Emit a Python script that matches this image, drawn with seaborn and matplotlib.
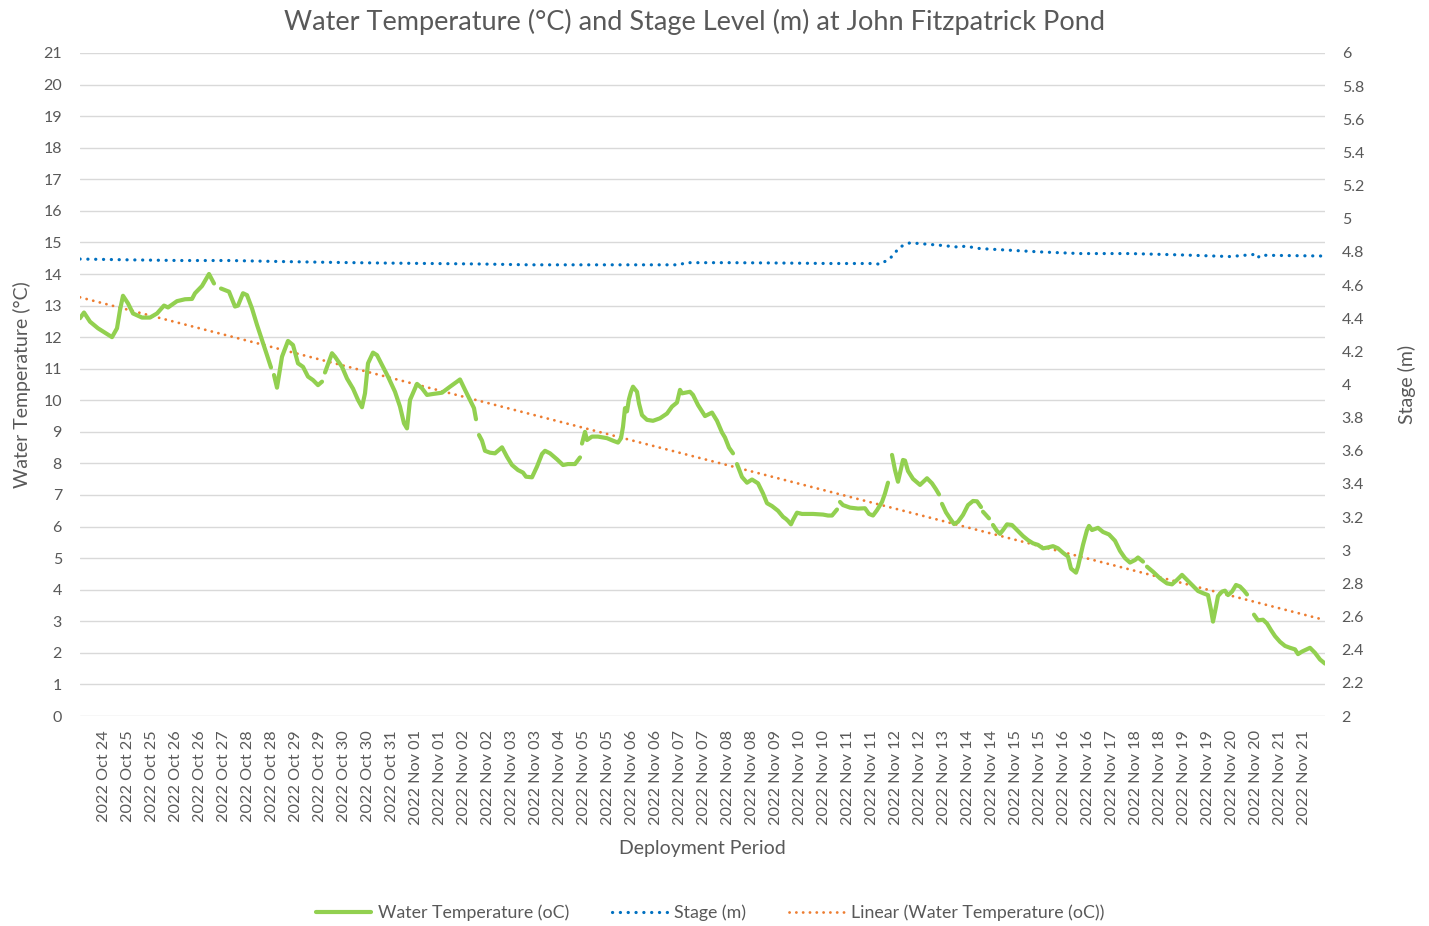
import numpy as np
import pandas as pd
import matplotlib
matplotlib.use("Agg")
import matplotlib.pyplot as plt
from matplotlib.lines import Line2D
import seaborn as sns

sns.set_theme(style="white")
plt.rcParams['font.family'] = ['Lato', 'DejaVu Sans']

# ---------------- data ----------------
# reading index (uniform logging interval) and water temperature (°C); NaN = logger gap
temp_idx = [0, 4, 10, 18, 32, 37, 40, 43, 48, 53, 62, 70, 77, 84, 88, 97, 105, 112, 115, 122, 129, 134, 137,
            141, 149, 155, 158, 163, 167, 172, 177, 182, 187, 191, 192,
            194, 197, 202, 208, 213, 218, 223, 228, 233, 238, 242, 243,
            245, 252, 255, 262, 267, 273, 278, 282, 285, 288, 293, 297, 302, 308, 315, 320, 324, 327,
            330, 337, 342, 347, 353, 362, 370, 377, 380, 385, 390, 394, 396, 397,
            399, 402, 405, 410, 415, 422, 427, 432, 438, 443, 446, 452, 457, 462, 465, 470, 477, 483,
            488, 495, 500, 501,
            502, 505, 507, 512, 518, 527, 533, 538, 541, 543, 545, 547, 549, 551, 553, 557, 559, 562,
            567, 573, 580, 587, 592, 597, 600, 602, 610, 613, 618, 625, 632, 637, 642, 645, 649, 653, 655,
            657, 662, 667, 672, 678, 683, 687, 692, 698, 703, 706, 708, 711, 713, 717, 722, 733, 743,
            748, 752, 757, 758,
            760, 763, 770, 778, 785, 789, 793, 797, 802, 805, 808, 810,
            812, 815, 818, 823, 825, 828, 833, 840, 847, 852, 856, 859, 860,
            862, 866, 870, 874, 878, 883, 888, 893, 897, 901, 902,
            903, 909, 911,
            913, 917, 920, 923, 927, 932, 937, 943, 948, 953, 958, 963, 968, 973, 978, 983, 988, 991,
            996, 998, 1003, 1007, 1009, 1012, 1018, 1023, 1029, 1035, 1040, 1045, 1050, 1055, 1058,
            1063, 1065,
            1067, 1073, 1080, 1087, 1092, 1097, 1102, 1107, 1113, 1118, 1123, 1128, 1131, 1133, 1136,
            1138, 1142, 1145, 1148, 1152, 1156, 1160, 1164, 1167, 1170,
            1174, 1178, 1183, 1187, 1191, 1195, 1200, 1205, 1210, 1215, 1218, 1222, 1230, 1235, 1240,
            1245]
temp_val = [12.6, 12.78, 12.49, 12.28, 12.0, 12.28, 12.86, 13.31, 13.07, 12.75, 12.62, 12.62, 12.75, 13.0,
            12.94, 13.14, 13.2, 13.21, 13.39, 13.62, 14.0, 13.7, np.nan,
            13.54, 13.44, 12.97, 13.0, 13.39, 13.33, 12.91, 12.39, 11.91, 11.43, 11.04, np.nan,
            10.8, 10.4, 11.38, 11.88, 11.75, 11.17, 11.06, 10.75, 10.64, 10.48, 10.59, np.nan,
            10.88, 11.49, 11.38, 11.06, 10.69, 10.37, 10.01, 9.78, 10.22, 11.17, 11.51, 11.43, 11.12,
            10.75, 10.27, 9.8, 9.27, 9.11,
            10.01, 10.52, 10.38, 10.17, 10.20, 10.24, 10.43, 10.59, 10.66, 10.33, 10.01, 9.75, 9.4, np.nan,
            8.9, 8.72, 8.4, 8.34, 8.32, 8.51, 8.21, 7.95, 7.79, 7.71, 7.58, 7.56, 7.9, 8.3, 8.4, 8.32,
            8.13, 7.95, 7.98, 7.98, 8.19, np.nan,
            8.63, 9.0, 8.74, 8.85, 8.85, 8.8, 8.72, 8.66, 8.8, 9.16, 9.75, 9.65, 10.04, 10.27, 10.43,
            10.27, 9.9, 9.53, 9.38, 9.35, 9.43, 9.58, 9.8, 9.93, 10.33, 10.22, 10.27, 10.17, 9.85, 9.5,
            9.61, 9.35, 8.98, 8.82, 8.5, 8.32, np.nan,
            7.98, 7.57, 7.39, 7.49, 7.37, 7.05, 6.74, 6.65, 6.5, 6.31, 6.24, 6.18, 6.07, 6.21, 6.44,
            6.40, 6.40, 6.38, 6.35, 6.35, 6.54, np.nan,
            6.78, 6.68, 6.60, 6.57, 6.58, 6.40, 6.35, 6.52, 6.78, 7.05, 7.39, np.nan,
            8.27, 7.79, 7.42, 8.11, 8.09, 7.76, 7.51, 7.32, 7.53, 7.37, 7.18, 7.02, np.nan,
            6.72, 6.45, 6.26, 6.08, 6.15, 6.37, 6.68, 6.81, 6.8, 6.62, np.nan,
            6.47, 6.26, np.nan,
            6.05, 5.86, 5.77, 5.89, 6.07, 6.05, 5.89, 5.70, 5.57, 5.47, 5.42, 5.31, 5.34, 5.38, 5.31,
            5.17, 5.05, 4.67, 4.54, 4.73, 5.42, 5.89, 6.02, 5.89, 5.96, 5.83, 5.75, 5.55, 5.23, 5.0,
            4.86, 4.94, 5.02, 4.89, np.nan,
            4.73, 4.57, 4.36, 4.2, 4.17, 4.31, 4.47, 4.31, 4.12, 3.96, 3.89, 3.83, 3.36, 2.99, 3.46,
            3.80, 3.94, 3.97, 3.83, 3.94, 4.15, 4.1, 3.97, 3.85, np.nan,
            3.21, 3.03, 3.05, 2.93, 2.72, 2.53, 2.35, 2.22, 2.16, 2.11, 1.96, 2.04, 2.16, 2.0, 1.79,
            1.66]

# stage level (m)
stage_idx = [0, 50, 100, 150, 200, 250, 300, 350, 400, 450, 500, 560, 600, 605, 650, 700, 750, 795,
             800, 810, 820, 830, 840, 860, 880, 885, 900, 930, 960, 1000, 1050, 1100, 1150, 1175,
             1178, 1180, 1245]
stage_val = [4.757, 4.752, 4.748, 4.748, 4.742, 4.737, 4.733, 4.730, 4.727, 4.722, 4.722, 4.722,
             4.722, 4.735, 4.735, 4.733, 4.730, 4.730, 4.725, 4.76, 4.83, 4.855, 4.85, 4.84, 4.828,
             4.835, 4.82, 4.81, 4.80, 4.79, 4.79, 4.782, 4.772, 4.785, 4.765, 4.78, 4.775]

tick_idx = list(range(24, 1225, 24))
tick_labels = ["2022 Oct 24", "2022 Oct 25", "2022 Oct 25", "2022 Oct 26", "2022 Oct 26", "2022 Oct 27",
               "2022 Oct 28", "2022 Oct 28", "2022 Oct 29", "2022 Oct 29", "2022 Oct 30", "2022 Oct 30",
               "2022 Oct 31", "2022 Nov 01", "2022 Nov 01", "2022 Nov 02", "2022 Nov 02",
               "2022 Nov 03", "2022 Nov 03", "2022 Nov 04", "2022 Nov 05", "2022 Nov 05", "2022 Nov 06",
               "2022 Nov 06", "2022 Nov 07", "2022 Nov 07", "2022 Nov 08", "2022 Nov 08", "2022 Nov 09",
               "2022 Nov 10", "2022 Nov 10", "2022 Nov 11", "2022 Nov 11", "2022 Nov 12",
               "2022 Nov 12", "2022 Nov 13", "2022 Nov 14", "2022 Nov 14", "2022 Nov 15", "2022 Nov 15",
               "2022 Nov 16", "2022 Nov 16", "2022 Nov 17", "2022 Nov 18", "2022 Nov 18", "2022 Nov 19",
               "2022 Nov 19", "2022 Nov 20", "2022 Nov 20", "2022 Nov 21", "2022 Nov 21"]

# ---------------- frames ----------------
tdf = pd.DataFrame({"idx": temp_idx, "temp": temp_val})
tdf["segment"] = tdf["temp"].isna().cumsum()
tdf = tdf.dropna()
sdf = pd.DataFrame({"idx": stage_idx, "stage": stage_val})

# linear trend of water temperature
coef = np.polyfit(tdf["idx"], tdf["temp"], 1)
x_end = max(temp_idx)
trend_df = pd.DataFrame({"idx": [0, x_end], "trend": np.polyval(coef, [0, x_end])})

GREEN = "#92D050"
BLUE = "#0070C0"
ORANGE = "#ED7D31"
TXT = "#595959"
GRID = "#D9D9D9"

fig = plt.figure(figsize=(14.29, 9.26), dpi=100)
ax = fig.add_axes([80 / 1429, 1 - 716 / 926, (1325 - 80) / 1429, (716 - 53) / 926])
ax2 = ax.twinx()

dot = (0, (0.05, 2.4))
sns.lineplot(data=trend_df, x="idx", y="trend", ax=ax, color=ORANGE, lw=2.0,
             linestyle=dot, dash_capstyle="round", zorder=3)
sns.lineplot(data=tdf, x="idx", y="temp", units="segment", estimator=None, ax=ax,
             color=GREEN, lw=3.0, zorder=4, solid_capstyle="round", solid_joinstyle="round")
sns.lineplot(data=sdf, x="idx", y="stage", ax=ax2, color=BLUE, lw=2.3,
             linestyle=dot, dash_capstyle="round")

ax.set_xlim(0, 1245)
ax.set_ylim(0, 21)
ax.set_yticks(range(0, 22))
ax.yaxis.grid(True, color=GRID, lw=1.0)
ax.set_axisbelow(True)
ax.set_xticks(tick_idx)
ax.set_xticklabels(tick_labels, rotation=90, fontsize=11.7, color=TXT)
ax.tick_params(axis="x", length=0, pad=10)
ax.tick_params(axis="y", length=0, pad=13, labelsize=11.5, labelcolor=TXT)

ax2.set_ylim(2, 6)
r_ticks = np.round(np.arange(2, 6.001, 0.2), 1)
ax2.set_yticks(r_ticks)
ax2.set_yticklabels([f"{v:g}" for v in r_ticks])
ax2.tick_params(axis="y", length=0, pad=12, labelsize=11.5, labelcolor=TXT)
ax2.grid(False)

for a in (ax, ax2):
    for s in a.spines.values():
        s.set_visible(False)

ax.set_xlabel("Deployment Period", fontsize=14, color=TXT, labelpad=11)
ax.set_ylabel("Water Temperature (°C)", fontsize=14, color=TXT, labelpad=9)
ax2.set_ylabel("Stage (m)", fontsize=14, color=TXT, labelpad=24)

fig.suptitle("Water Temperature (°C) and Stage Level (m) at John Fitzpatrick Pond",
             x=0.486, y=1 - 22 / 926, va="center", fontsize=19.5, color=TXT)

handles = [Line2D([], [], color=GREEN, lw=3.0),
           Line2D([], [], color=BLUE, lw=2.3, linestyle=dot, dash_capstyle="round"),
           Line2D([], [], color=ORANGE, lw=2.0, linestyle=dot, dash_capstyle="round")]
labels = ["Water Temperature (oC)", "Stage (m)", "Linear (Water Temperature (oC))"]
fig.legend(handles, labels, loc="center", bbox_to_anchor=(0.497, 1 - 913 / 926), ncol=3,
           frameon=False, fontsize=12.8, labelcolor=TXT, handlelength=3.1,
           columnspacing=2.4, handletextpad=0.4)

fig.savefig("out.png", dpi=100)
